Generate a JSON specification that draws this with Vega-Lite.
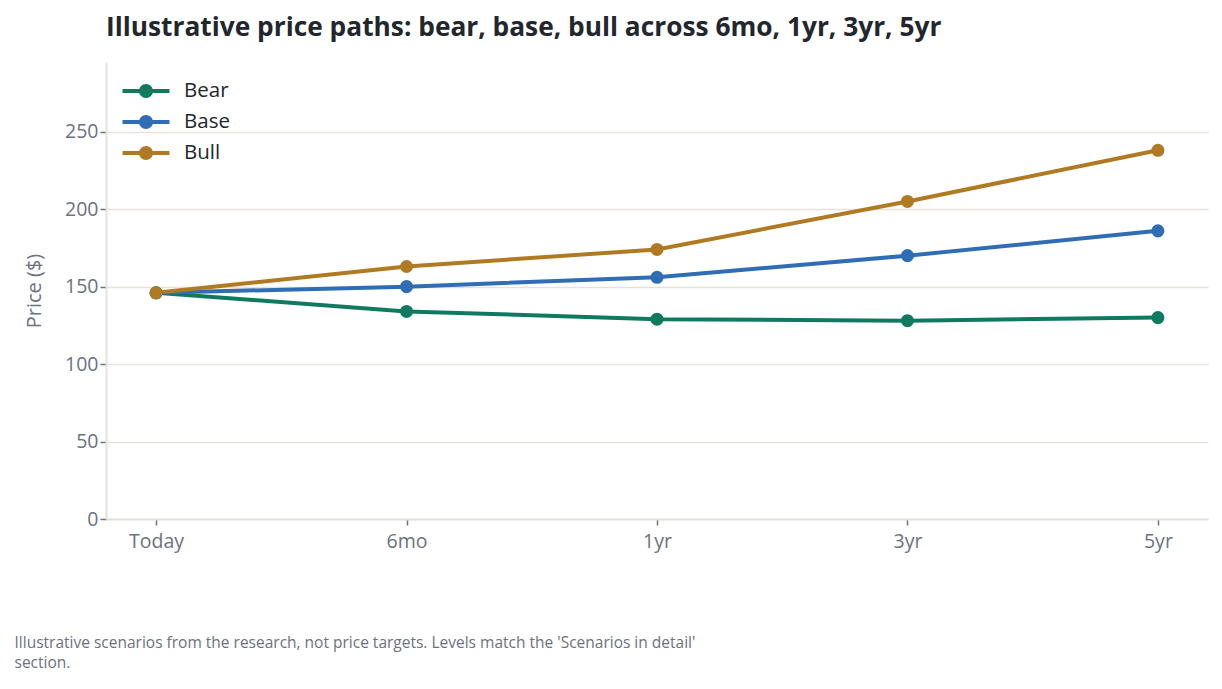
{
  "$schema": "https://vega.github.io/schema/vega-lite/v6.json",
  "autosize": {"type": "none"},
  "padding": {"left": 106, "top": 62, "right": 14, "bottom": 170},
  "width": 1102,
  "height": 457,
  "background": "white",
  "title": {
    "text": "Illustrative price paths: bear, base, bull across 6mo, 1yr, 3yr, 5yr",
    "anchor": "start",
    "frame": "group",
    "baseline": "alphabetic",
    "offset": 0,
    "font": "Open Sans",
    "fontSize": 26.3,
    "fontWeight": "bold",
    "color": "#22272e"
  },
  "data": {
    "values": [
      {"horizon": "Today", "scenario": "Bear", "price": 146},
      {"horizon": "6mo", "scenario": "Bear", "price": 134},
      {"horizon": "1yr", "scenario": "Bear", "price": 129},
      {"horizon": "3yr", "scenario": "Bear", "price": 128},
      {"horizon": "5yr", "scenario": "Bear", "price": 130},
      {"horizon": "Today", "scenario": "Base", "price": 146},
      {"horizon": "6mo", "scenario": "Base", "price": 150},
      {"horizon": "1yr", "scenario": "Base", "price": 156},
      {"horizon": "3yr", "scenario": "Base", "price": 170},
      {"horizon": "5yr", "scenario": "Base", "price": 186},
      {"horizon": "Today", "scenario": "Bull", "price": 146},
      {"horizon": "6mo", "scenario": "Bull", "price": 163},
      {"horizon": "1yr", "scenario": "Bull", "price": 174},
      {"horizon": "3yr", "scenario": "Bull", "price": 205},
      {"horizon": "5yr", "scenario": "Bull", "price": 238}
    ]
  },
  "encoding": {
    "x": {
      "field": "horizon",
      "type": "ordinal",
      "sort": ["Today", "6mo", "1yr", "3yr", "5yr"],
      "scale": {"type": "point", "padding": 0.2},
      "axis": {
        "labelAngle": 0,
        "grid": false,
        "title": ["Illustrative scenarios from the research, not price targets. Levels match the 'Scenarios in detail'", "section."],
        "titleAnchor": "start",
        "titleAlign": "left",
        "titleX": -92,
        "titleY": 128,
        "titleBaseline": "alphabetic",
        "titleFontSize": 15.5,
        "titleFontWeight": "normal",
        "titleColor": "#6b7280",
        "titleLineHeight": 20,
        "labelPadding": 7
      }
    },
    "y": {
      "field": "price",
      "type": "quantitative",
      "scale": {"domain": [0, 295], "nice": false},
      "axis": {
        "values": [0, 50, 100, 150, 200, 250],
        "title": "Price ($)",
        "titleFontSize": 20,
        "titleFontWeight": "normal",
        "titleColor": "#6b7280",
        "titlePadding": 20
      }
    },
    "color": {
      "field": "scenario",
      "type": "nominal",
      "sort": ["Bear", "Base", "Bull"],
      "scale": {"domain": ["Bear", "Base", "Bull"], "range": ["#107a60", "#2f6db4", "#b07a22"]},
      "legend": {
        "title": null,
        "orient": "none",
        "legendX": 26,
        "legendY": 15,
        "symbolType": "M-2,0L2,0M0.43,0A0.43,0.43,0,1,1,-0.43,0A0.43,0.43,0,1,1,0.43,0",
        "symbolSize": 552,
        "symbolStrokeWidth": 4,
        "labelFontSize": 20.5,
        "labelColor": "#22272e",
        "labelOffset": 24,
        "rowPadding": 3,
        "encode": {
          "symbols": {
            "update": {
              "fill": {"scale": "color", "field": "value"},
              "stroke": {"scale": "color", "field": "value"},
              "strokeWidth": {"value": 4},
              "opacity": {"value": 1}
            }
          }
        }
      }
    }
  },
  "layer": [
    {"mark": {"type": "line", "strokeWidth": 4}},
    {"mark": {"type": "circle", "size": 170, "opacity": 1}}
  ],
  "config": {
    "font": "Open Sans",
    "view": {"stroke": null},
    "axis": {
      "labelFont": "Open Sans",
      "titleFont": "Open Sans",
      "labelFontSize": 19.5,
      "labelColor": "#6b7280",
      "domainColor": "#e6e1db",
      "domainWidth": 2,
      "gridColor": "#e6e1db",
      "gridWidth": 1.5,
      "tickColor": "#6b7280",
      "tickSize": 6,
      "tickWidth": 1.5
    },
    "legend": {"labelFont": "Open Sans"}
  }
}
